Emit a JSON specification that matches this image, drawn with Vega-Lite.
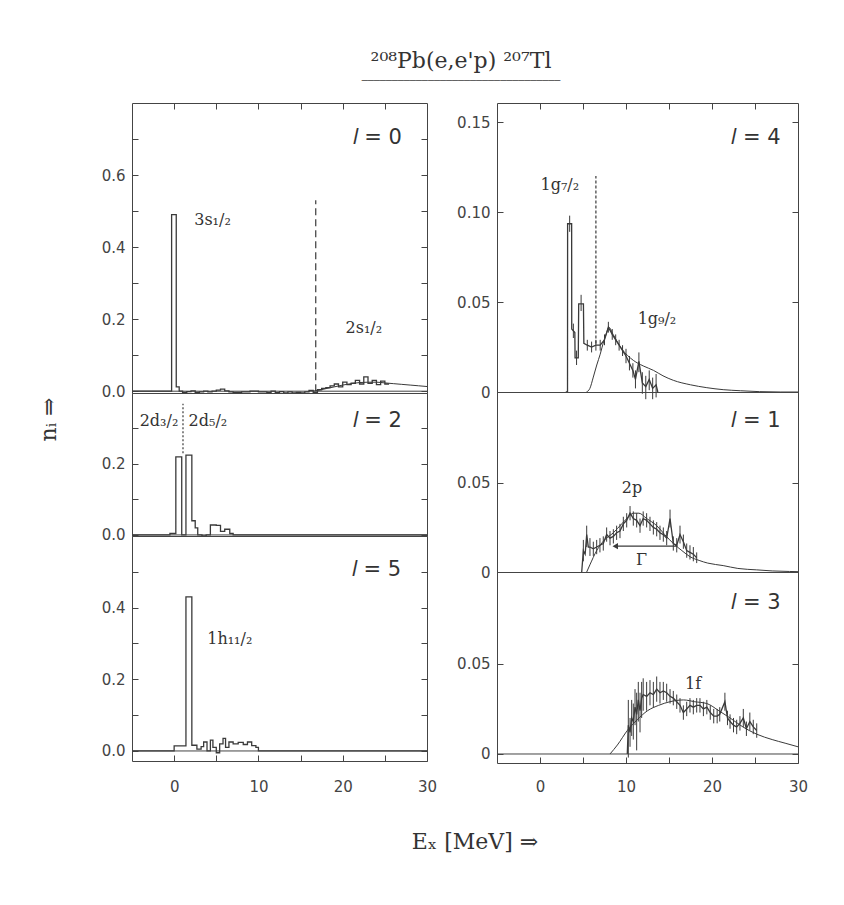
{
  "$schema": "https://vega.github.io/schema/vega-lite/v6.json",
  "background": "white",
  "padding": {"left": 36, "top": 50, "right": 5, "bottom": 5},
  "title": {
    "text": "²⁰⁸Pb(e,e'p) ²⁰⁷Tl",
    "subtitle": "─────────────────────────────────",
    "anchor": "middle",
    "frame": "group",
    "dx": 329,
    "offset": 15,
    "font": "DejaVu Serif",
    "fontSize": 22,
    "fontWeight": "normal",
    "color": "#333",
    "subtitleFont": "DejaVu Sans Mono",
    "subtitleFontSize": 10,
    "subtitleColor": "#555",
    "subtitlePadding": 3
  },
  "datasets": {
    "zero": [{"x": -5, "x2": 30, "y": 0}],
    "s0": [
      {"x": -5, "y": 0}, {"x": -0.3, "y": 0.49}, {"x": 0.25, "y": 0.012}, {"x": 0.6, "y": 0.0},
      {"x": 1.0, "y": -0.003}, {"x": 1.5, "y": -0.001}, {"x": 2.0, "y": 0.001}, {"x": 2.5, "y": -0.003},
      {"x": 3.0, "y": -0.002}, {"x": 3.5, "y": 0.0}, {"x": 4.0, "y": -0.002}, {"x": 4.5, "y": 0.0},
      {"x": 5.0, "y": 0.003}, {"x": 5.5, "y": 0.006}, {"x": 6.0, "y": 0.001}, {"x": 6.5, "y": -0.002},
      {"x": 7.0, "y": -0.003}, {"x": 8.0, "y": -0.002}, {"x": 9.0, "y": 0.0}, {"x": 10.0, "y": -0.002},
      {"x": 11.0, "y": -0.003}, {"x": 11.5, "y": 0.0}, {"x": 12.0, "y": -0.004}, {"x": 12.5, "y": -0.001},
      {"x": 13.0, "y": -0.005}, {"x": 13.5, "y": -0.002}, {"x": 14.0, "y": -0.005}, {"x": 14.5, "y": -0.003},
      {"x": 15.0, "y": -0.005}, {"x": 15.5, "y": -0.002}, {"x": 16.0, "y": 0.002}, {"x": 16.5, "y": -0.004},
      {"x": 17.0, "y": 0.004}, {"x": 17.5, "y": 0.008}, {"x": 18.0, "y": 0.01}, {"x": 18.5, "y": 0.015},
      {"x": 19.0, "y": 0.02}, {"x": 19.5, "y": 0.012}, {"x": 20.0, "y": 0.025}, {"x": 20.5, "y": 0.018},
      {"x": 21.0, "y": 0.022}, {"x": 21.5, "y": 0.03}, {"x": 22.0, "y": 0.02}, {"x": 22.5, "y": 0.04},
      {"x": 23.0, "y": 0.022}, {"x": 23.5, "y": 0.03}, {"x": 24.0, "y": 0.018}, {"x": 24.5, "y": 0.028},
      {"x": 25.0, "y": 0.02}, {"x": 25.5, "y": 0.02}
    ],
    "f0": [
      {"x": 16.5, "y": 0}, {"x": 17, "y": 0.002}, {"x": 18, "y": 0.007}, {"x": 19, "y": 0.012},
      {"x": 20, "y": 0.017}, {"x": 21, "y": 0.021}, {"x": 22, "y": 0.024}, {"x": 23, "y": 0.025},
      {"x": 24, "y": 0.025}, {"x": 25, "y": 0.023}, {"x": 26, "y": 0.021}, {"x": 27, "y": 0.019},
      {"x": 28, "y": 0.017}, {"x": 29, "y": 0.015}, {"x": 30, "y": 0.013}
    ],
    "v0": [{"x": 16.8, "y": 0, "y2": 0.53}],
    "p0": [{"x": 4.55, "y": 0.475, "t": "3s₁/₂"}, {"x": 22.5, "y": 0.175, "t": "2s₁/₂"}],
    "l0": [{"x": 24.1, "y": 0.704, "t": "𝑙 = 0"}],
    "s2": [
      {"x": -5, "y": 0}, {"x": -0.5, "y": 0.004}, {"x": 0.2, "y": 0.22}, {"x": 0.9, "y": 0.0},
      {"x": 1.4, "y": 0.225}, {"x": 2.1, "y": 0.04}, {"x": 2.5, "y": 0.02}, {"x": 2.8, "y": 0.0},
      {"x": 3.3, "y": -0.003}, {"x": 3.8, "y": 0.0}, {"x": 4.3, "y": 0.028}, {"x": 5.0, "y": 0.027},
      {"x": 5.5, "y": 0.01}, {"x": 6.0, "y": 0.016}, {"x": 6.6, "y": 0.004}, {"x": 7.0, "y": 0.0},
      {"x": 30, "y": 0.0}
    ],
    "v2": [{"x": 1.05, "y": 0.23, "y2": 0.37}],
    "p2": [{"x": -1.8, "y": 0.32, "t": "2d₃/₂"}, {"x": 4.0, "y": 0.32, "t": "2d₅/₂"}],
    "l2": [{"x": 24.1, "y": 0.32, "t": "𝑙 = 2"}],
    "s5": [
      {"x": -5, "y": 0}, {"x": 0.0, "y": 0.014}, {"x": 1.4, "y": 0.43}, {"x": 2.1, "y": 0.016},
      {"x": 2.7, "y": 0.005}, {"x": 3.2, "y": 0.012}, {"x": 3.5, "y": 0.025}, {"x": 3.9, "y": 0.0},
      {"x": 4.3, "y": 0.03}, {"x": 4.6, "y": 0.01}, {"x": 5.0, "y": -0.005}, {"x": 5.4, "y": 0.02},
      {"x": 5.8, "y": 0.035}, {"x": 6.1, "y": 0.01}, {"x": 6.5, "y": 0.025}, {"x": 7.0, "y": 0.02},
      {"x": 7.6, "y": 0.024}, {"x": 8.2, "y": 0.018}, {"x": 8.7, "y": 0.025}, {"x": 9.2, "y": 0.015},
      {"x": 9.7, "y": 0.01}, {"x": 10.0, "y": 0.0}, {"x": 30, "y": 0.0}
    ],
    "p5": [{"x": 6.6, "y": 0.312, "t": "1h₁₁/₂"}],
    "l5": [{"x": 24.0, "y": 0.505, "t": "𝑙 = 5"}],
    "d4": [
      {"x": 3.0, "y": 0}, {"x": 3.2, "y": 0}, {"x": 3.21, "y": 0.0935}, {"x": 3.68, "y": 0.0935},
      {"x": 3.69, "y": 0.035}, {"x": 4.05, "y": 0.033}, {"x": 4.08, "y": 0.019}, {"x": 4.45, "y": 0.019},
      {"x": 4.5, "y": 0.049}, {"x": 5.05, "y": 0.049}, {"x": 5.1, "y": 0.027}, {"x": 5.5, "y": 0.026},
      {"x": 6.0, "y": 0.025}, {"x": 6.5, "y": 0.026}, {"x": 7.0, "y": 0.026}, {"x": 7.5, "y": 0.029},
      {"x": 7.95, "y": 0.036}, {"x": 8.4, "y": 0.032}, {"x": 8.8, "y": 0.029}, {"x": 9.2, "y": 0.026},
      {"x": 9.6, "y": 0.023}, {"x": 10.0, "y": 0.02}, {"x": 10.4, "y": 0.016}, {"x": 10.8, "y": 0.012},
      {"x": 11.1, "y": 0.007}, {"x": 11.5, "y": 0.017}, {"x": 11.9, "y": 0.005}, {"x": 12.3, "y": 0.003},
      {"x": 12.7, "y": 0.007}, {"x": 13.1, "y": 0.002}, {"x": 13.5, "y": 0.004}, {"x": 13.7, "y": 0.0}
    ],
    "e4": [
      {"x": 3.45, "lo": 0.089, "hi": 0.098}, {"x": 3.88, "lo": 0.030, "hi": 0.038}, {"x": 4.25, "lo": 0.015, "hi": 0.023},
      {"x": 4.78, "lo": 0.045, "hi": 0.054}, {"x": 5.5, "lo": 0.023, "hi": 0.029}, {"x": 6.0, "lo": 0.022, "hi": 0.028},
      {"x": 6.5, "lo": 0.023, "hi": 0.029}, {"x": 7.0, "lo": 0.023, "hi": 0.029}, {"x": 7.5, "lo": 0.026, "hi": 0.032},
      {"x": 7.95, "lo": 0.033, "hi": 0.039}, {"x": 8.4, "lo": 0.029, "hi": 0.035}, {"x": 8.8, "lo": 0.026, "hi": 0.032},
      {"x": 9.2, "lo": 0.023, "hi": 0.029}, {"x": 9.6, "lo": 0.02, "hi": 0.026}, {"x": 10.0, "lo": 0.016, "hi": 0.024},
      {"x": 10.4, "lo": 0.012, "hi": 0.02}, {"x": 10.8, "lo": 0.008, "hi": 0.016}, {"x": 11.1, "lo": 0.002, "hi": 0.012},
      {"x": 11.5, "lo": 0.011, "hi": 0.022}, {"x": 11.9, "lo": -0.001, "hi": 0.011}, {"x": 12.3, "lo": -0.004, "hi": 0.009},
      {"x": 12.7, "lo": 0.001, "hi": 0.012}, {"x": 13.1, "lo": -0.004, "hi": 0.008}, {"x": 13.5, "lo": -0.003, "hi": 0.01}
    ],
    "f4": [
      {"x": 5.4, "y": 0}, {"x": 5.8, "y": 0.002}, {"x": 6.2, "y": 0.0083}, {"x": 6.6, "y": 0.015},
      {"x": 7.0, "y": 0.021}, {"x": 7.4, "y": 0.028}, {"x": 7.75, "y": 0.033}, {"x": 8.0, "y": 0.036},
      {"x": 8.5, "y": 0.032}, {"x": 9.5, "y": 0.024}, {"x": 10.85, "y": 0.0176}, {"x": 12, "y": 0.0145},
      {"x": 13.2, "y": 0.012}, {"x": 14.3, "y": 0.009}, {"x": 15.5, "y": 0.0065}, {"x": 17.5, "y": 0.004},
      {"x": 19.4, "y": 0.0024}, {"x": 21.3, "y": 0.0013}, {"x": 23.3, "y": 0.0007}, {"x": 25.5, "y": 0.0002},
      {"x": 28, "y": 0}, {"x": 30, "y": 0}
    ],
    "v4": [{"x": 6.5, "y": 0.027, "y2": 0.12}],
    "p4": [{"x": 2.3, "y": 0.115, "t": "1g₇/₂"}, {"x": 13.6, "y": 0.0407, "t": "1g₉/₂"}],
    "l4": [{"x": 25.1, "y": 0.1414, "t": "𝑙 = 4"}],
    "d1": [
      {"x": 4.85, "y": 0.0}, {"x": 5.04, "y": 0.012}, {"x": 5.25, "y": 0.01}, {"x": 5.43, "y": 0.021},
      {"x": 5.62, "y": 0.014}, {"x": 5.81, "y": 0.014}, {"x": 6.2, "y": 0.013}, {"x": 6.59, "y": 0.014},
      {"x": 6.97, "y": 0.015}, {"x": 7.36, "y": 0.016}, {"x": 7.75, "y": 0.021}, {"x": 8.14, "y": 0.019},
      {"x": 8.53, "y": 0.02}, {"x": 8.91, "y": 0.022}, {"x": 9.3, "y": 0.023}, {"x": 9.69, "y": 0.027},
      {"x": 10.08, "y": 0.029}, {"x": 10.47, "y": 0.033}, {"x": 10.85, "y": 0.03}, {"x": 11.24, "y": 0.029},
      {"x": 11.63, "y": 0.026}, {"x": 12.0, "y": 0.03}, {"x": 12.4, "y": 0.029}, {"x": 12.79, "y": 0.027},
      {"x": 13.18, "y": 0.025}, {"x": 13.57, "y": 0.024}, {"x": 13.95, "y": 0.022}, {"x": 14.34, "y": 0.021},
      {"x": 14.73, "y": 0.019}, {"x": 15.12, "y": 0.03}, {"x": 15.5, "y": 0.016}, {"x": 15.9, "y": 0.015},
      {"x": 16.28, "y": 0.021}, {"x": 16.67, "y": 0.017}, {"x": 17.06, "y": 0.012}, {"x": 17.44, "y": 0.011},
      {"x": 17.83, "y": 0.01}, {"x": 18.22, "y": 0.008}
    ],
    "e1": [
      {"x": 5.04, "lo": 0.006, "hi": 0.018}, {"x": 5.43, "lo": 0.014, "hi": 0.026}, {"x": 5.81, "lo": 0.009, "hi": 0.019},
      {"x": 6.2, "lo": 0.009, "hi": 0.017}, {"x": 6.59, "lo": 0.01, "hi": 0.018}, {"x": 6.97, "lo": 0.011, "hi": 0.019},
      {"x": 7.36, "lo": 0.012, "hi": 0.02}, {"x": 7.75, "lo": 0.017, "hi": 0.025}, {"x": 8.14, "lo": 0.015, "hi": 0.023},
      {"x": 8.53, "lo": 0.016, "hi": 0.024}, {"x": 8.91, "lo": 0.018, "hi": 0.026}, {"x": 9.3, "lo": 0.019, "hi": 0.027},
      {"x": 9.69, "lo": 0.023, "hi": 0.031}, {"x": 10.08, "lo": 0.025, "hi": 0.033}, {"x": 10.47, "lo": 0.029, "hi": 0.037},
      {"x": 10.85, "lo": 0.026, "hi": 0.034}, {"x": 11.24, "lo": 0.025, "hi": 0.033}, {"x": 11.63, "lo": 0.022, "hi": 0.03},
      {"x": 12.0, "lo": 0.026, "hi": 0.034}, {"x": 12.4, "lo": 0.025, "hi": 0.033}, {"x": 12.79, "lo": 0.023, "hi": 0.031},
      {"x": 13.18, "lo": 0.021, "hi": 0.029}, {"x": 13.57, "lo": 0.02, "hi": 0.028}, {"x": 13.95, "lo": 0.018, "hi": 0.026},
      {"x": 14.34, "lo": 0.017, "hi": 0.025}, {"x": 14.73, "lo": 0.015, "hi": 0.023}, {"x": 15.12, "lo": 0.025, "hi": 0.035},
      {"x": 15.5, "lo": 0.012, "hi": 0.02}, {"x": 15.9, "lo": 0.011, "hi": 0.019}, {"x": 16.28, "lo": 0.016, "hi": 0.026},
      {"x": 16.67, "lo": 0.013, "hi": 0.021}, {"x": 17.06, "lo": 0.008, "hi": 0.016}, {"x": 17.44, "lo": 0.007, "hi": 0.015},
      {"x": 17.83, "lo": 0.006, "hi": 0.014}, {"x": 18.22, "lo": 0.005, "hi": 0.011}
    ],
    "f1": [
      {"x": 5.43, "y": 0}, {"x": 5.8, "y": 0.004}, {"x": 6.59, "y": 0.012}, {"x": 7.5, "y": 0.018},
      {"x": 8.53, "y": 0.022}, {"x": 9.5, "y": 0.027}, {"x": 10.3, "y": 0.031}, {"x": 10.85, "y": 0.033},
      {"x": 11.5, "y": 0.033}, {"x": 12.4, "y": 0.03}, {"x": 13.57, "y": 0.026}, {"x": 14.5, "y": 0.021},
      {"x": 15.5, "y": 0.016}, {"x": 16.5, "y": 0.012}, {"x": 17.44, "y": 0.0086}, {"x": 18.5, "y": 0.0065},
      {"x": 19.5, "y": 0.005}, {"x": 21.3, "y": 0.0036}, {"x": 23, "y": 0.002}, {"x": 25.2, "y": 0.0012},
      {"x": 27, "y": 0.0006}, {"x": 29, "y": 0.0003}, {"x": 30, "y": 0.0002}
    ],
    "g1": [{"x": 8.75, "x2": 16.0, "y": 0.0145}],
    "p1": [{"x": 10.7, "y": 0.047, "t": "2p"}, {"x": 11.8, "y": 0.0066, "t": "Γ"}],
    "l1": [{"x": 25.1, "y": 0.085, "t": "𝑙 = 1"}],
    "d3": [
      {"x": 10.15, "y": 0.0}, {"x": 10.27, "y": 0.016}, {"x": 10.47, "y": 0.012}, {"x": 10.66, "y": 0.02},
      {"x": 10.85, "y": 0.018}, {"x": 11.05, "y": 0.026}, {"x": 11.24, "y": 0.022}, {"x": 11.43, "y": 0.03},
      {"x": 11.63, "y": 0.024}, {"x": 11.82, "y": 0.031}, {"x": 12.0, "y": 0.033}, {"x": 12.4, "y": 0.032},
      {"x": 12.79, "y": 0.034}, {"x": 13.18, "y": 0.033}, {"x": 13.57, "y": 0.036}, {"x": 13.95, "y": 0.034},
      {"x": 14.34, "y": 0.035}, {"x": 14.73, "y": 0.034}, {"x": 15.12, "y": 0.032}, {"x": 15.5, "y": 0.031},
      {"x": 15.9, "y": 0.029}, {"x": 16.28, "y": 0.027}, {"x": 16.67, "y": 0.023}, {"x": 17.06, "y": 0.025},
      {"x": 17.44, "y": 0.027}, {"x": 17.83, "y": 0.026}, {"x": 18.22, "y": 0.027}, {"x": 18.6, "y": 0.027},
      {"x": 19.0, "y": 0.025}, {"x": 19.4, "y": 0.026}, {"x": 19.8, "y": 0.023}, {"x": 20.2, "y": 0.021},
      {"x": 20.6, "y": 0.021}, {"x": 20.9, "y": 0.022}, {"x": 21.5, "y": 0.029}, {"x": 21.8, "y": 0.02},
      {"x": 22.1, "y": 0.018}, {"x": 22.5, "y": 0.016}, {"x": 22.87, "y": 0.015}, {"x": 23.25, "y": 0.017},
      {"x": 23.64, "y": 0.02}, {"x": 24.0, "y": 0.014}, {"x": 24.4, "y": 0.018}, {"x": 24.8, "y": 0.015},
      {"x": 25.2, "y": 0.013}
    ],
    "e3": [
      {"x": 10.27, "lo": -0.002, "hi": 0.03}, {"x": 10.47, "lo": 0.004, "hi": 0.02}, {"x": 10.66, "lo": 0.01, "hi": 0.03},
      {"x": 10.85, "lo": 0.008, "hi": 0.028}, {"x": 11.05, "lo": 0.016, "hi": 0.036}, {"x": 11.24, "lo": 0.002, "hi": 0.034},
      {"x": 11.43, "lo": 0.018, "hi": 0.04}, {"x": 11.63, "lo": 0.012, "hi": 0.034}, {"x": 11.82, "lo": 0.02, "hi": 0.04},
      {"x": 12.0, "lo": 0.024, "hi": 0.042}, {"x": 12.4, "lo": 0.024, "hi": 0.04}, {"x": 12.79, "lo": 0.027, "hi": 0.041},
      {"x": 13.18, "lo": 0.026, "hi": 0.04}, {"x": 13.57, "lo": 0.029, "hi": 0.043}, {"x": 13.95, "lo": 0.028, "hi": 0.04},
      {"x": 14.34, "lo": 0.03, "hi": 0.04}, {"x": 14.73, "lo": 0.029, "hi": 0.039}, {"x": 15.12, "lo": 0.028, "hi": 0.036},
      {"x": 15.5, "lo": 0.027, "hi": 0.035}, {"x": 15.9, "lo": 0.025, "hi": 0.033}, {"x": 16.28, "lo": 0.023, "hi": 0.031},
      {"x": 16.67, "lo": 0.019, "hi": 0.027}, {"x": 17.06, "lo": 0.021, "hi": 0.029}, {"x": 17.44, "lo": 0.023, "hi": 0.031},
      {"x": 17.83, "lo": 0.022, "hi": 0.03}, {"x": 18.22, "lo": 0.023, "hi": 0.031}, {"x": 18.6, "lo": 0.023, "hi": 0.031},
      {"x": 19.0, "lo": 0.021, "hi": 0.029}, {"x": 19.4, "lo": 0.022, "hi": 0.03}, {"x": 19.8, "lo": 0.019, "hi": 0.027},
      {"x": 20.2, "lo": 0.017, "hi": 0.025}, {"x": 20.6, "lo": 0.017, "hi": 0.025}, {"x": 20.9, "lo": 0.018, "hi": 0.026},
      {"x": 21.5, "lo": 0.024, "hi": 0.034}, {"x": 21.8, "lo": 0.016, "hi": 0.024}, {"x": 22.1, "lo": 0.014, "hi": 0.022},
      {"x": 22.5, "lo": 0.012, "hi": 0.02}, {"x": 22.87, "lo": 0.011, "hi": 0.019}, {"x": 23.25, "lo": 0.013, "hi": 0.021},
      {"x": 23.64, "lo": 0.015, "hi": 0.025}, {"x": 24.0, "lo": 0.01, "hi": 0.018}, {"x": 24.4, "lo": 0.013, "hi": 0.023},
      {"x": 24.8, "lo": 0.011, "hi": 0.019}, {"x": 25.2, "lo": 0.009, "hi": 0.017}
    ],
    "f3": [
      {"x": 8.14, "y": 0}, {"x": 9, "y": 0.005}, {"x": 10.15, "y": 0.013}, {"x": 11.3, "y": 0.019},
      {"x": 12.5, "y": 0.024}, {"x": 13.8, "y": 0.027}, {"x": 15.1, "y": 0.029}, {"x": 16.7, "y": 0.03},
      {"x": 18, "y": 0.029}, {"x": 19.4, "y": 0.028}, {"x": 20.8, "y": 0.024}, {"x": 22.1, "y": 0.02},
      {"x": 23.6, "y": 0.015}, {"x": 25.2, "y": 0.011}, {"x": 27, "y": 0.008}, {"x": 28.5, "y": 0.006},
      {"x": 30, "y": 0.004}
    ],
    "p3": [{"x": 17.8, "y": 0.039, "t": "1f"}],
    "l3": [{"x": 25.1, "y": 0.084, "t": "𝑙 = 3"}]
  },
  "vconcat": [
    {
      "title": {"text": "Eₓ [MeV] ⇒", "orient": "bottom", "anchor": "middle", "frame": "group", "dx": 343, "offset": 37,
        "font": "DejaVu Serif", "fontSize": 22, "fontWeight": "normal", "color": "#333"},
      "spacing": 18,
      "hconcat": [
        {
          "vconcat": [
            {
              "width": 295, "height": 290,
              "encoding": {"x": {"field": "x", "type": "quantitative", "scale": {"domain": [-5, 30], "nice": false, "zero": false},
                "axis": {"orient": "top", "values": [0, 5, 10, 15, 20, 25], "labels": false, "title": null}}},
              "layer": [
                {"data": {"name": "zero"}, "mark": {"type": "rule", "color": "#444", "strokeWidth": 1},
                 "encoding": {"x2": {"field": "x2"}, "y": {"field": "y", "type": "quantitative", "scale": {"domain": [-0.005, 0.8], "nice": false, "zero": false}, "axis": null}}},
                {"data": {"name": "s0"}, "mark": {"type": "line", "interpolate": "step-after", "color": "#3a3a3a", "strokeWidth": 1.3},
                 "encoding": {"y": {"field": "y", "type": "quantitative", "scale": {"domain": [-0.005, 0.8], "nice": false, "zero": false},
                   "axis": {"orient": "left", "values": [0, 0.1, 0.2, 0.3, 0.4, 0.5, 0.6, 0.7], "labelPadding": 13, "title": null,
                     "labelExpr": "round(datum.value*10) % 2 == 0 ? format(datum.value, '.1f') : ''"}}}},
                {"data": {"name": "f0"}, "mark": {"type": "line", "interpolate": "monotone", "color": "#3a3a3a", "strokeWidth": 1},
                 "encoding": {"y": {"field": "y", "type": "quantitative", "scale": {"domain": [-0.005, 0.8], "nice": false, "zero": false},
                   "axis": {"orient": "right", "values": [0, 0.1, 0.2, 0.3, 0.4, 0.5, 0.6, 0.7], "labels": false, "title": null}}}},
                {"data": {"name": "v0"}, "mark": {"type": "rule", "color": "#3a3a3a", "strokeDash": [7, 4], "strokeWidth": 1.2},
                 "encoding": {"y": {"field": "y", "type": "quantitative", "axis": null}, "y2": {"field": "y2"}}},
                {"data": {"name": "p0"}, "mark": {"type": "text", "font": "DejaVu Serif", "fontSize": 16, "color": "#333", "baseline": "middle"},
                 "encoding": {"y": {"field": "y", "type": "quantitative", "axis": null}, "text": {"field": "t"}}},
                {"data": {"name": "l0"}, "mark": {"type": "text", "font": "DejaVu Sans", "fontSize": 21, "color": "#333", "baseline": "middle"},
                 "encoding": {"y": {"field": "y", "type": "quantitative", "axis": null}, "text": {"field": "t"}}}
              ],
              "resolve": {"axis": {"y": "independent"}}
            },
            {
              "width": 295, "height": 143,
              "encoding": {"x": {"field": "x", "type": "quantitative", "scale": {"domain": [-5, 30], "nice": false, "zero": false}, "axis": null}},
              "layer": [
                {"data": {"name": "s2"}, "mark": {"type": "line", "interpolate": "step-after", "color": "#3a3a3a", "strokeWidth": 1.3},
                 "encoding": {"y": {"field": "y", "type": "quantitative", "scale": {"domain": [-0.003, 0.4], "nice": false, "zero": false},
                   "axis": {"orient": "left", "values": [0, 0.1, 0.2, 0.3], "labelPadding": 13,
                     "labelExpr": "round(datum.value*10) % 2 == 0 ? format(datum.value, '.1f') : ''",
                     "title": "nᵢ ⇒", "titleX": -84, "titleY": 26, "titleAngle": 270, "titleAlign": "center", "titleBaseline": "middle",
                     "titleFont": "DejaVu Serif", "titleFontSize": 22}}}},
                {"data": {"name": "zero"}, "mark": {"type": "rule", "color": "#444", "strokeWidth": 1},
                 "encoding": {"x2": {"field": "x2"}, "y": {"field": "y", "type": "quantitative", "scale": {"domain": [-0.003, 0.4], "nice": false, "zero": false},
                   "axis": {"orient": "right", "values": [0, 0.1, 0.2, 0.3], "labels": false, "title": null}}}},
                {"data": {"name": "v2"}, "mark": {"type": "rule", "color": "#3a3a3a", "strokeDash": [2, 2], "strokeWidth": 1.2},
                 "encoding": {"y": {"field": "y", "type": "quantitative", "axis": null}, "y2": {"field": "y2"}}},
                {"data": {"name": "p2"}, "mark": {"type": "text", "font": "DejaVu Serif", "fontSize": 16, "color": "#333", "baseline": "middle"},
                 "encoding": {"y": {"field": "y", "type": "quantitative", "axis": null}, "text": {"field": "t"}}},
                {"data": {"name": "l2"}, "mark": {"type": "text", "font": "DejaVu Sans", "fontSize": 21, "color": "#333", "baseline": "middle"},
                 "encoding": {"y": {"field": "y", "type": "quantitative", "axis": null}, "text": {"field": "t"}}}
              ],
              "resolve": {"axis": {"y": "independent"}}
            },
            {
              "width": 295, "height": 225,
              "encoding": {"x": {"field": "x", "type": "quantitative", "scale": {"domain": [-5, 30], "nice": false, "zero": false},
                "axis": {"orient": "bottom", "values": [0, 5, 10, 15, 20, 25, 30], "labelPadding": 24, "title": null,
                  "labelExpr": "datum.value % 10 == 0 ? datum.label : ''"}}},
              "layer": [
                {"data": {"name": "s5"}, "mark": {"type": "line", "interpolate": "step-after", "color": "#3a3a3a", "strokeWidth": 1.3},
                 "encoding": {"y": {"field": "y", "type": "quantitative", "scale": {"domain": [-0.028, 0.6], "nice": false, "zero": false},
                   "axis": {"orient": "left", "values": [0, 0.1, 0.2, 0.3, 0.4, 0.5], "labelPadding": 13, "title": null,
                     "labelExpr": "round(datum.value*10) % 2 == 0 ? format(datum.value, '.1f') : ''"}}}},
                {"data": {"name": "zero"}, "mark": {"type": "rule", "color": "#444", "strokeWidth": 1},
                 "encoding": {"x2": {"field": "x2"}, "y": {"field": "y", "type": "quantitative", "scale": {"domain": [-0.028, 0.6], "nice": false, "zero": false},
                   "axis": {"orient": "right", "values": [0, 0.1, 0.2, 0.3, 0.4, 0.5], "labels": false, "title": null}}}},
                {"data": {"name": "p5"}, "mark": {"type": "text", "font": "DejaVu Serif", "fontSize": 16, "color": "#333", "baseline": "middle"},
                 "encoding": {"y": {"field": "y", "type": "quantitative", "axis": null}, "text": {"field": "t"}}},
                {"data": {"name": "l5"}, "mark": {"type": "text", "font": "DejaVu Sans", "fontSize": 21, "color": "#333", "baseline": "middle"},
                 "encoding": {"y": {"field": "y", "type": "quantitative", "axis": null}, "text": {"field": "t"}}}
              ],
              "resolve": {"axis": {"y": "independent"}}
            }
          ],
          "spacing": 0,
          "bounds": "flush"
        },
        {
          "vconcat": [
            {
              "width": 301, "height": 289,
              "encoding": {"x": {"field": "x", "type": "quantitative", "scale": {"domain": [-5, 30], "nice": false, "zero": false},
                "axis": {"orient": "top", "values": [0, 5, 10, 15, 20, 25], "labels": false, "title": null}}},
              "layer": [
                {"data": {"name": "d4"}, "mark": {"type": "line", "color": "#3a3a3a", "strokeWidth": 1.3},
                 "encoding": {"y": {"field": "y", "type": "quantitative", "scale": {"domain": [0, 0.1606], "nice": false, "zero": false},
                   "axis": {"orient": "left", "values": [0, 0.05, 0.1, 0.15], "labelPadding": 13, "title": null,
                     "labelExpr": "datum.value == 0 ? '0' : format(datum.value, '.2f')"}}}},
                {"data": {"name": "f4"}, "mark": {"type": "line", "interpolate": "monotone", "color": "#3a3a3a", "strokeWidth": 1},
                 "encoding": {"y": {"field": "y", "type": "quantitative", "scale": {"domain": [0, 0.1606], "nice": false, "zero": false},
                   "axis": {"orient": "right", "values": [0, 0.05, 0.1, 0.15], "labels": false, "title": null}}}},
                {"data": {"name": "e4"}, "mark": {"type": "rule", "color": "#3a3a3a", "strokeWidth": 1},
                 "encoding": {"y": {"field": "lo", "type": "quantitative", "axis": null}, "y2": {"field": "hi"}}},
                {"data": {"name": "v4"}, "mark": {"type": "rule", "color": "#3a3a3a", "strokeDash": [3, 2], "strokeWidth": 1.2},
                 "encoding": {"y": {"field": "y", "type": "quantitative", "axis": null}, "y2": {"field": "y2"}}},
                {"data": {"name": "p4"}, "mark": {"type": "text", "font": "DejaVu Serif", "fontSize": 16, "color": "#333", "baseline": "middle"},
                 "encoding": {"y": {"field": "y", "type": "quantitative", "axis": null}, "text": {"field": "t"}}},
                {"data": {"name": "l4"}, "mark": {"type": "text", "font": "DejaVu Sans", "fontSize": 21, "color": "#333", "baseline": "middle"},
                 "encoding": {"y": {"field": "y", "type": "quantitative", "axis": null}, "text": {"field": "t"}}}
              ],
              "resolve": {"axis": {"y": "independent"}}
            },
            {
              "width": 301, "height": 180,
              "encoding": {"x": {"field": "x", "type": "quantitative", "scale": {"domain": [-5, 30], "nice": false, "zero": false}, "axis": null}},
              "layer": [
                {"data": {"name": "d1"}, "mark": {"type": "line", "color": "#3a3a3a", "strokeWidth": 1.3},
                 "encoding": {"y": {"field": "y", "type": "quantitative", "scale": {"domain": [0, 0.101], "nice": false, "zero": false},
                   "axis": {"orient": "left", "values": [0, 0.05], "labelPadding": 13, "title": null,
                     "labelExpr": "datum.value == 0 ? '0' : format(datum.value, '.2f')"}}}},
                {"data": {"name": "f1"}, "mark": {"type": "line", "interpolate": "monotone", "color": "#3a3a3a", "strokeWidth": 1},
                 "encoding": {"y": {"field": "y", "type": "quantitative", "scale": {"domain": [0, 0.101], "nice": false, "zero": false},
                   "axis": {"orient": "right", "values": [0, 0.05], "labels": false, "title": null}}}},
                {"data": {"name": "e1"}, "mark": {"type": "rule", "color": "#3a3a3a", "strokeWidth": 1},
                 "encoding": {"y": {"field": "lo", "type": "quantitative", "axis": null}, "y2": {"field": "hi"}}},
                {"data": {"name": "g1"}, "mark": {"type": "rule", "color": "#3a3a3a", "strokeWidth": 1.2},
                 "encoding": {"x2": {"field": "x2"}, "y": {"field": "y", "type": "quantitative", "axis": null}}},
                {"data": {"name": "g1"}, "mark": {"type": "point", "shape": "triangle-left", "filled": true, "size": 40, "color": "#3a3a3a", "opacity": 1},
                 "encoding": {"y": {"field": "y", "type": "quantitative", "axis": null}}},
                {"data": {"name": "p1"}, "mark": {"type": "text", "font": "DejaVu Serif", "fontSize": 16, "color": "#333", "baseline": "middle"},
                 "encoding": {"y": {"field": "y", "type": "quantitative", "axis": null}, "text": {"field": "t"}}},
                {"data": {"name": "l1"}, "mark": {"type": "text", "font": "DejaVu Sans", "fontSize": 21, "color": "#333", "baseline": "middle"},
                 "encoding": {"y": {"field": "y", "type": "quantitative", "axis": null}, "text": {"field": "t"}}}
              ],
              "resolve": {"axis": {"y": "independent"}}
            },
            {
              "width": 301, "height": 191,
              "encoding": {"x": {"field": "x", "type": "quantitative", "scale": {"domain": [-5, 30], "nice": false, "zero": false},
                "axis": {"orient": "bottom", "values": [0, 5, 10, 15, 20, 25, 30], "labelPadding": 22, "title": null,
                  "labelExpr": "datum.value % 10 == 0 ? datum.label : ''"}}},
              "layer": [
                {"data": {"name": "d3"}, "mark": {"type": "line", "color": "#3a3a3a", "strokeWidth": 1.3},
                 "encoding": {"y": {"field": "y", "type": "quantitative", "scale": {"domain": [-0.005, 0.101], "nice": false, "zero": false},
                   "axis": {"orient": "left", "values": [0, 0.05], "labelPadding": 13, "title": null,
                     "labelExpr": "datum.value == 0 ? '0' : format(datum.value, '.2f')"}}}},
                {"data": {"name": "f3"}, "mark": {"type": "line", "interpolate": "monotone", "color": "#3a3a3a", "strokeWidth": 1},
                 "encoding": {"y": {"field": "y", "type": "quantitative", "scale": {"domain": [-0.005, 0.101], "nice": false, "zero": false},
                   "axis": {"orient": "right", "values": [0, 0.05], "labels": false, "title": null}}}},
                {"data": {"name": "zero"}, "mark": {"type": "rule", "color": "#444", "strokeWidth": 1},
                 "encoding": {"x2": {"field": "x2"}, "y": {"field": "y", "type": "quantitative", "axis": null}}},
                {"data": {"name": "e3"}, "mark": {"type": "rule", "color": "#3a3a3a", "strokeWidth": 1},
                 "encoding": {"y": {"field": "lo", "type": "quantitative", "axis": null}, "y2": {"field": "hi"}}},
                {"data": {"name": "p3"}, "mark": {"type": "text", "font": "DejaVu Serif", "fontSize": 16, "color": "#333", "baseline": "middle"},
                 "encoding": {"y": {"field": "y", "type": "quantitative", "axis": null}, "text": {"field": "t"}}},
                {"data": {"name": "l3"}, "mark": {"type": "text", "font": "DejaVu Sans", "fontSize": 21, "color": "#333", "baseline": "middle"},
                 "encoding": {"y": {"field": "y", "type": "quantitative", "axis": null}, "text": {"field": "t"}}}
              ],
              "resolve": {"axis": {"y": "independent"}}
            }
          ],
          "spacing": 0,
          "bounds": "flush"
        }
      ]
    }
  ],
  "config": {
    "view": {"stroke": "#444", "strokeWidth": 1},
    "axis": {
      "domain": false, "grid": false, "ticks": true, "tickSize": -6, "tickColor": "#444", "tickWidth": 1,
      "labelFont": "DejaVu Sans", "labelFontSize": 15, "labelColor": "#444",
      "labelFlush": false, "labelOverlap": false,
      "titleFont": "DejaVu Serif", "titleFontWeight": "normal", "titleColor": "#333"
    }
  }
}
